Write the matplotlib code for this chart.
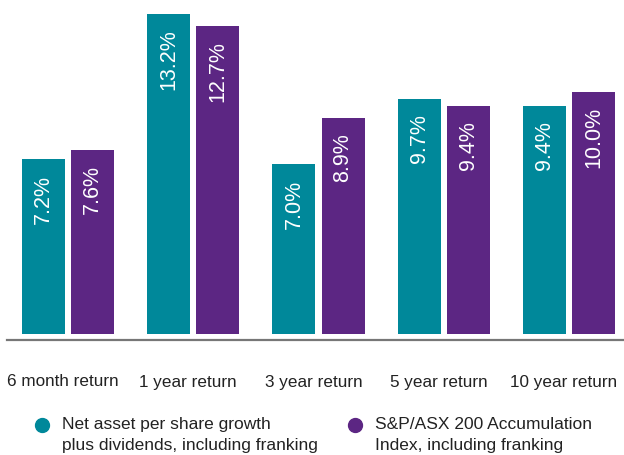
import matplotlib
matplotlib.use('Agg')
import matplotlib.pyplot as plt
import matplotlib.transforms as mtransforms
import numpy as np

plt.rcParams['font.family'] = ['Liberation Sans', 'DejaVu Sans']

categories = ['6 month return', '1 year return', '3 year return', '5 year return', '10 year return']
nav_growth = [7.2, 13.2, 7.0, 9.7, 9.4]
asx200 = [7.6, 12.7, 8.9, 9.4, 10.0]
series_names = ['Net asset per share growth\nplus dividends, including franking',
                'S&P/ASX 200 Accumulation\nIndex, including franking']

teal = '#00889A'
purple = '#5C2683'

W, H = 624, 455
fig = plt.figure(figsize=(W / 100, H / 100), dpi=100)
# axes from pixel x 7..624, y 0..340 (top down)
ax = fig.add_axes([7 / W, (H - 340) / H, (624 - 7) / W, 340 / H])

x = np.arange(len(categories))
w = 0.343
off = 0.196
ax.bar(x - off, nav_growth, w, color=teal)
ax.bar(x + off, asx200, w, color=purple)

for xs, vals in ((x - off, nav_growth), (x + off, asx200)):
    for xi, v in zip(xs, vals):
        ax.annotate('%.1f%%' % v, (xi, v), xytext=(0, -11), textcoords='offset points',
                    rotation=90, ha='center', va='top', color='white', fontsize=15.5)

ax.set_xlim(-0.487, 4.439)
ax.set_ylim(-0.25, 13.78)
for s in ['top', 'right', 'left']:
    ax.spines[s].set_visible(False)
ax.spines['bottom'].set_color('#777777')
ax.spines['bottom'].set_linewidth(1.6)
ax.set_xticks([])
ax.set_yticks([])

# category labels
trans = mtransforms.blended_transform_factory(ax.transData, fig.transFigure)
for xi, c in zip(x, categories):
    ax.text(xi - 0.04, (H - 382) / H, c, transform=trans, ha='center', va='center',
            fontsize=12.3, color='#222222')

# legend
for cx, tx, col, name in ((42, 62, teal, series_names[0]), (355, 375, purple, series_names[1])):
    fig.add_artist(plt.Line2D([cx / W], [(H - 425) / H], marker='o', markersize=10,
                              color=col, transform=fig.transFigure))
    fig.text(tx / W, (H - 417) / H, name, ha='left', va='top', fontsize=12.5,
             color='#222222', linespacing=1.5)

fig.savefig('out.png', dpi=100)
